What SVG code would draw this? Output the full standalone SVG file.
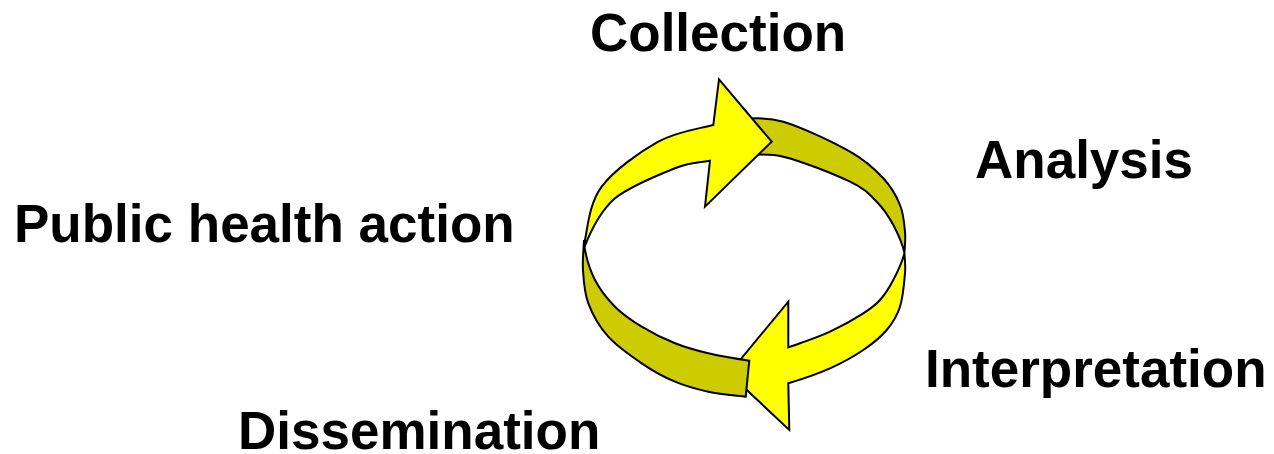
<svg xmlns="http://www.w3.org/2000/svg" width="1274" height="454" viewBox="0 0 1274 454">
<style>
.lbl{font-family:"Liberation Sans",Arial,sans-serif;font-weight:bold;font-size:53px;fill:#000}
.lt{fill:#FFFF00;stroke:#000;stroke-width:2;stroke-linejoin:miter}
.dk{fill:#CCCC00;stroke:#000;stroke-width:2;stroke-linejoin:miter}
</style>
<rect width="1274" height="454" fill="#fff"/>
<g id="connectors">
<path id="back-band" class="dk" d="M740,119 C756,118 768,117.5 783.3,121.7 C801.6,127.1 833.3,142.3 850,151.7 C866.7,161.1 875,169.4 883.3,178.3 C891.6,187.2 896.4,196.1 900,205 C903.6,213.9 904.3,223.7 905,231.7 C905.8,239.7 904.7,245.8 904.5,253 C902.6,244.7 897.9,233.6 893.3,225 C888.7,216.5 883.9,208.9 876.7,201.7 C869.5,194.5 865.6,189.2 850,181.7 C834.4,174.2 801.6,161.1 783.3,156.7 C768,153 752.2,154.8 740,155.5 Z"/>
<path id="top-arrow" class="lt" d="M585,240 C587.8,226.1 589.5,203.1 601.7,186.7 C613.9,170.3 639.7,152 658.3,141.7 C676.9,131.4 698,129 713.3,125 L719,79.3 L771.7,141.7 L705,206.7 L710,160.7 C695.8,163.2 690.8,162 675,168.3 C659.2,174.6 630,186.4 615,198.3 C599.9,211.4 589.6,233.9 584.5,247 Z"/>
<path id="bottom-arrow" class="lt" d="M904.5,253 C904.6,259.7 905.75,264.35 905,273.3 C904.25,282.25 903.05,297.25 900,306.7 C896.95,316.15 892.8,322.8 886.7,330 C880.6,337.2 872.75,343.6 863.3,350 C853.85,356.4 842.5,362.75 830,368.3 C817.5,373.85 800,379.7 788.3,383.3 L789.3,430 L729,373.3 L788.3,301.7 L788.3,347.3 C793.3,345.85 793.05,345.9 800,343.3 C806.95,340.7 819.45,336.7 830,331.7 C840.55,326.7 855,318.6 863.3,313.3 C871.6,308 875,305.55 880,300 C885,294.45 889.2,287.8 893.3,280 C897.4,272.2 902.5,260.8 904.5,253 Z"/>
<path id="front-band" class="dk" d="M584,240 C583.7,248.3 582.3,259.45 583,270 C583.7,280.55 584.1,292.2 588.3,303.3 C592.5,314.4 599.4,326.7 608.3,336.7 C617.2,346.7 630.6,355.8 641.7,363.3 C652.8,370.8 663.9,377 675,381.7 C686.1,386.4 696.5,389.2 708.3,391.7 C720.1,394.2 733.75,395.3 745.7,396.7 L749.3,360.7 C735.7,358.75 720.7,356.2 708.3,353.3 C695.9,350.4 686.1,347.7 675,343.3 C663.9,338.9 651.7,332.8 641.7,326.7 C631.7,320.6 622.8,314.5 615,306.7 C607.2,298.9 600.1,289.95 595,280 C589.9,270.05 586.25,257.5 584.5,247 Z"/>
</g>
<g id="collection"><text class="lbl" x="590" y="51">Collection</text></g>
<g id="analysis"><text class="lbl" x="975" y="178">Analysis</text></g>
<g id="interpretation"><text class="lbl" x="925" y="387">Interpretation</text></g>
<g id="dissemination"><text class="lbl" x="238" y="449">Dissemination</text></g>
<g id="public-health-action"><text class="lbl" x="14" y="242">Public health action</text></g>
</svg>
